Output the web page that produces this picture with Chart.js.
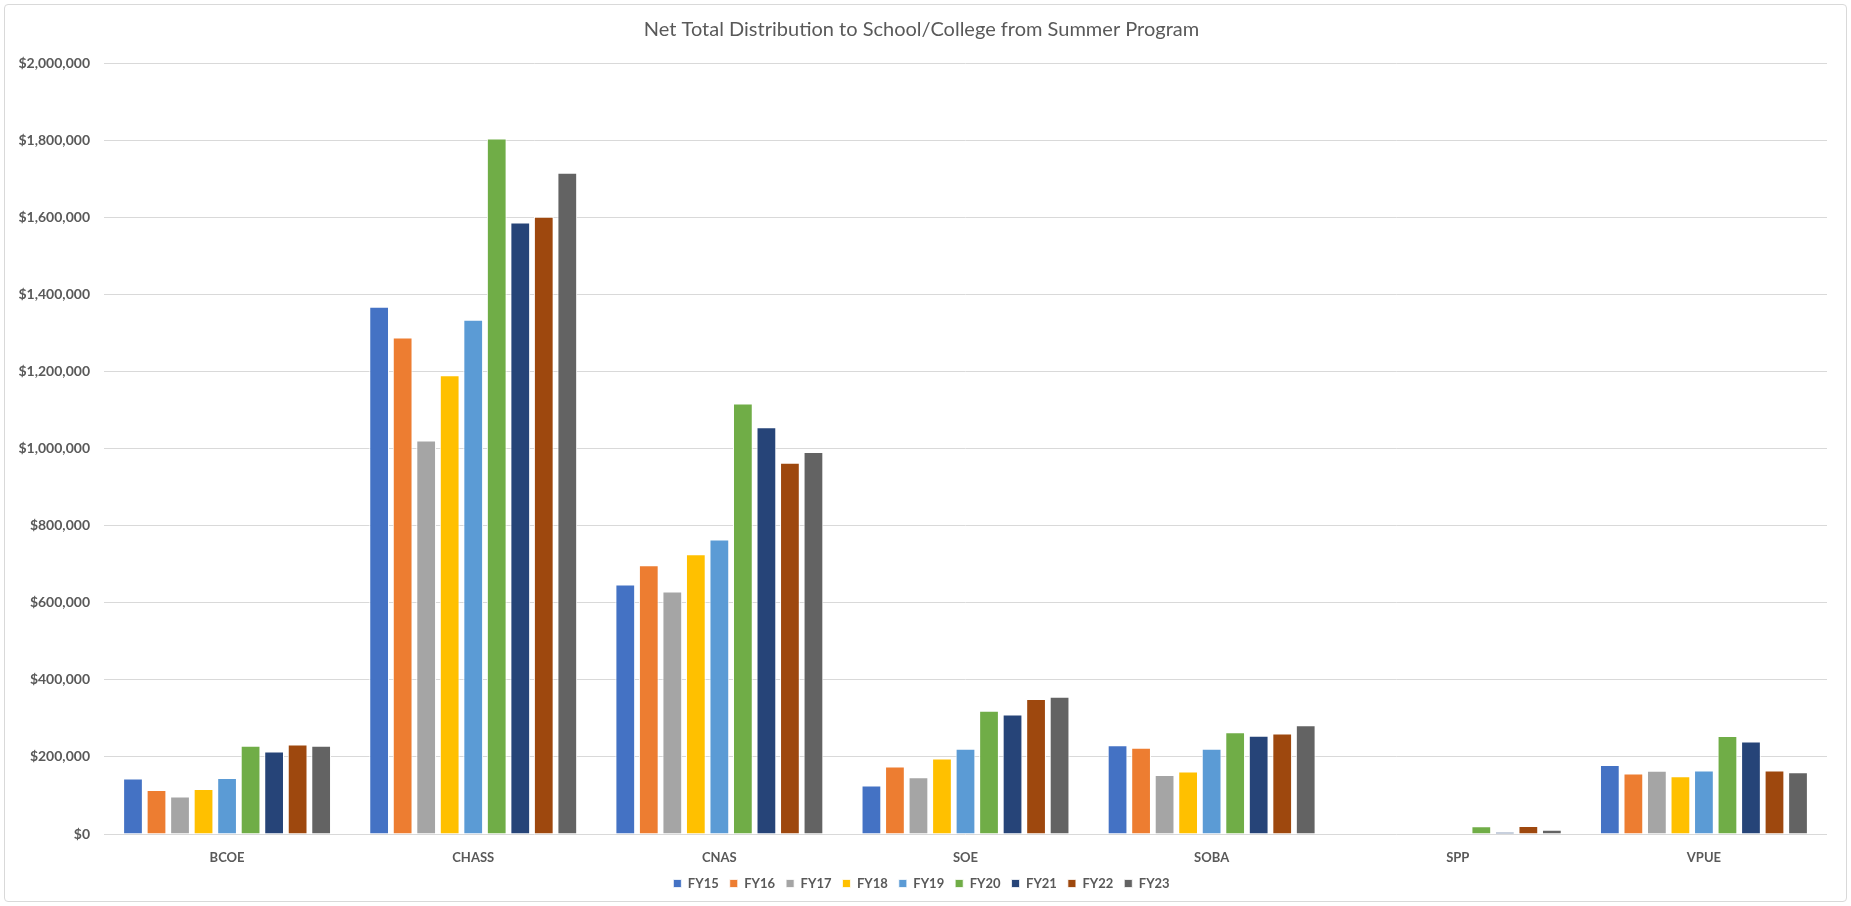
<!DOCTYPE html>
<html>
<head>
<meta charset="utf-8">
<script src="https://cdn.jsdelivr.net/npm/chart.js@4"></script>
<style>
  html, body { margin: 0; padding: 0; background: #fff; }
  #wrap { position: absolute; left: 4px; top: 4px; width: 1843px; height: 898px; border: 1px solid #d9d9d9; border-radius: 4px; box-sizing: border-box; }
  #box { position: absolute; left: 0; top: 0; width: 1851px; height: 906px; }
</style>
</head>
<body>
<div id="wrap"></div>
<div id="box"><canvas id="grafico"></canvas></div>
<script>
const categorias = ['BCOE', 'CHASS', 'CNAS', 'SOE', 'SOBA', 'SPP', 'VPUE'];
const anos = ['FY15', 'FY16', 'FY17', 'FY18', 'FY19', 'FY20', 'FY21', 'FY22', 'FY23'];
const cores = ['#4472C4', '#ED7D31', '#A5A5A5', '#FFC000', '#5B9BD5', '#70AD47', '#264478', '#9E480E', '#636363'];

// valores por ano, na ordem das categorias
const fy15 = [144000, 1368000, 647000, 126000, 230000, null, 179000];
const fy16 = [114000, 1288000, 697000, 175000, 224000, null, 157000];
const fy17 = [97000, 1021000, 629000, 147000, 153000, null, 164000];
const fy18 = [117000, 1190000, 726000, 196000, 162000, null, 150000];
const fy19 = [145000, 1334000, 764000, 221000, 221000, null, 165000];
const fy20 = [229000, 1804000, 1117000, 320000, 264000, 20000, 254000];
const fy21 = [214000, 1586000, 1055000, 310000, 255000, 5000, 240000];
const fy22 = [232000, 1601000, 963000, 350000, 261000, 21000, 165000];
const fy23 = [229000, 1715000, 991000, 356000, 282000, 11000, 160000];
const series = [fy15, fy16, fy17, fy18, fy19, fy20, fy21, fy22, fy23];

const yMax = 2000000;
const yPasso = 200000;

const fonte = "Lato, 'Open Sans', sans-serif";
const cinza = '#595959';

const ctx = document.getElementById('grafico').getContext('2d');

new Chart(ctx, {
  type: 'bar',
  data: {
    labels: categorias,
    datasets: series.map((dados, i) => ({
      label: anos[i],
      data: dados,
      backgroundColor: cores[i],
      borderColor: '#ffffff',
      borderWidth: { top: 1, left: 1, right: 1, bottom: 0 },
      barPercentage: 0.84,
      categoryPercentage: 0.86
    }))
  },
  options: {
    responsive: true,
    maintainAspectRatio: false,
    animation: false,
    layout: { padding: { left: 16, right: 24, top: 18, bottom: 6 } },
    plugins: {
      title: {
        display: true,
        text: 'Net Total Distribution to School/College from Summer Program',
        color: cinza,
        font: { family: fonte, size: 20, weight: 'normal' },
        padding: { top: 0, bottom: 21 }
      },
      legend: {
        position: 'bottom',
        labels: {
          color: cinza,
          boxWidth: 8,
          boxHeight: 8,
          padding: 11,
          font: { family: fonte, size: 13, weight: 'bold' }
        }
      },
      tooltip: { enabled: false }
    },
    scales: {
      x: {
        grid: { display: false, drawTicks: false },
        border: { display: false },
        afterFit: (scale) => { scale.height = 32; },
        ticks: { color: cinza, padding: 16, font: { family: fonte, size: 13, weight: 'bold' } }
      },
      y: {
        min: 0,
        max: yMax,
        grid: { color: '#d9d9d9', lineWidth: 1, drawTicks: false },
        border: { display: false },
        afterFit: (scale) => { scale.width = 88; },
        ticks: {
          stepSize: yPasso,
          color: cinza,
          padding: 14,
          font: { family: fonte, size: 14, weight: 'bold' },
          callback: (v) => '$' + v.toLocaleString('en-US')
        }
      }
    }
  }
});
</script>
</body>
</html>
